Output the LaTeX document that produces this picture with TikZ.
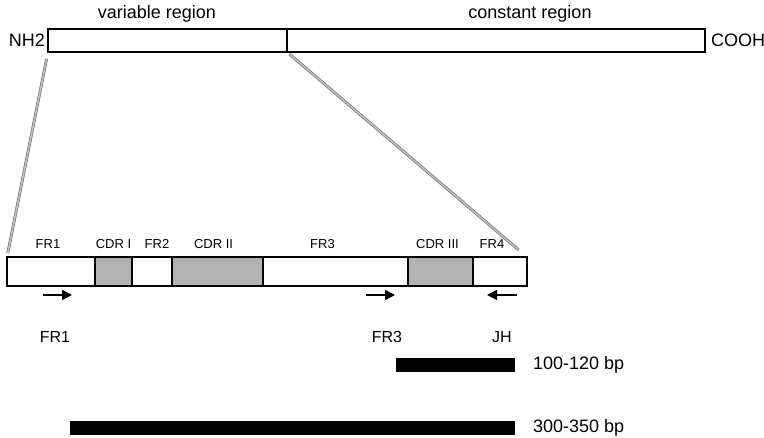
\documentclass[tikz,border=0pt]{standalone}
\usepackage{fontspec}
\setmainfont{Liberation Sans}
\usetikzlibrary{arrows.meta, positioning}
\tikzset{
  seg/.style = {rectangle, draw=black, line width=1.5pt, minimum height=29pt, inner sep=0pt, outer sep=0pt, fill=white},
  cdr/.style = {seg, fill=black!30},
  chain/.style = {rectangle, draw=black, line width=1.5pt, minimum height=23pt, inner sep=0pt, outer sep=0pt},
  seglabel/.style = {inner sep=0pt, font=\fontsize{13}{15}\selectfont},
  toplabel/.style = {inner sep=0pt, font=\fontsize{18}{20}\selectfont},
  primer/.style = {inner sep=0pt, font=\fontsize{16}{18}\selectfont},
  product/.style = {rectangle, fill=black, minimum height=14pt, inner sep=0pt, outer sep=0pt},
  zoomline/.style = {draw=black!60, line width=0.6pt, double=black!25, double distance=1.6pt},
  arrow/.style = {line width=1.6pt, -{Triangle[length=10pt, width=10pt]}}
}
\begin{document}
\begin{tikzpicture}[x=1pt, y=-1pt, node distance=0pt]
\useasboundingbox (0,0) rectangle (764,438);
% heavy chain
\node (var) [chain, minimum width=239pt] at (167.5,40.5) {};
\node (const) [chain, minimum width=418pt, right=0pt of var] {};
\node (nh) [toplabel, left=3pt of var] {NH2};
\node (cooh) [toplabel, right=6pt of const] {COOH};
\node (varlab) [toplabel] at (157,14) {variable region};
\node (constlab) [toplabel] at (530,14) {constant region};

% variable domain
\node (fr1) [seg, minimum width=88pt] at (51,271.5) {};
\node (cdr1) [cdr, minimum width=37pt, right=0pt of fr1] {};
\node (fr2) [seg, minimum width=40pt, right=0pt of cdr1] {};
\node (cdr2) [cdr, minimum width=91pt, right=0pt of fr2] {};
\node (fr3) [seg, minimum width=145pt, right=0pt of cdr2] {};
\node (cdr3) [cdr, minimum width=65pt, right=0pt of fr3] {};
\node (fr4) [seg, minimum width=54pt, right=0pt of cdr3] {};

\node (lfr1) [seglabel, above=8pt of fr1, xshift=-3pt] {FR1};
\node (lcdr1) [seglabel, above=8pt of cdr1] {CDR I};
\node (lfr2) [seglabel, above=8pt of fr2, xshift=5pt] {FR2};
\node (lcdr2) [seglabel, above=8pt of cdr2, xshift=-4pt] {CDR II};
\node (lfr3) [seglabel, above=8pt of fr3, xshift=-13pt] {FR3};
\node (lcdr3) [seglabel, above=8pt of cdr3, xshift=-3pt] {CDR III};
\node (lfr4) [seglabel, above=8pt of fr4, xshift=-8pt] {FR4};

\draw [zoomline, shorten <=7pt, shorten >=4pt] (var.south west) -- (fr1.north west);
\draw [zoomline, shorten <=3pt, shorten >=11pt] (var.south east) -- (fr4.north east);

% primers
\coordinate (a1) at (43,295);
\coordinate (b1) at (72,295);
\coordinate (a3) at (366,295);
\coordinate (b3) at (395,295);
\coordinate (aj) at (517,295);
\coordinate (bj) at (487,295);
\draw [arrow] (a1) -- (b1);
\draw [arrow] (a3) -- (b3);
\draw [arrow] (aj) -- (bj);
\node (pfr1) [primer] at (55,337) {FR1};
\node (pfr3) [primer] at (387,337) {FR3};
\node (pjh) [primer] at (502,337) {JH};

% PCR products
\node (prod1) [product, minimum width=119pt] at (455.5,365) {};
\node (prod2) [product, minimum width=445pt] at (292.5,428) {};
\node (bp1) [toplabel, right=18pt of prod1] {100-120 bp};
\node (bp2) [toplabel, right=18pt of prod2] {300-350 bp};
\end{tikzpicture}
\end{document}
